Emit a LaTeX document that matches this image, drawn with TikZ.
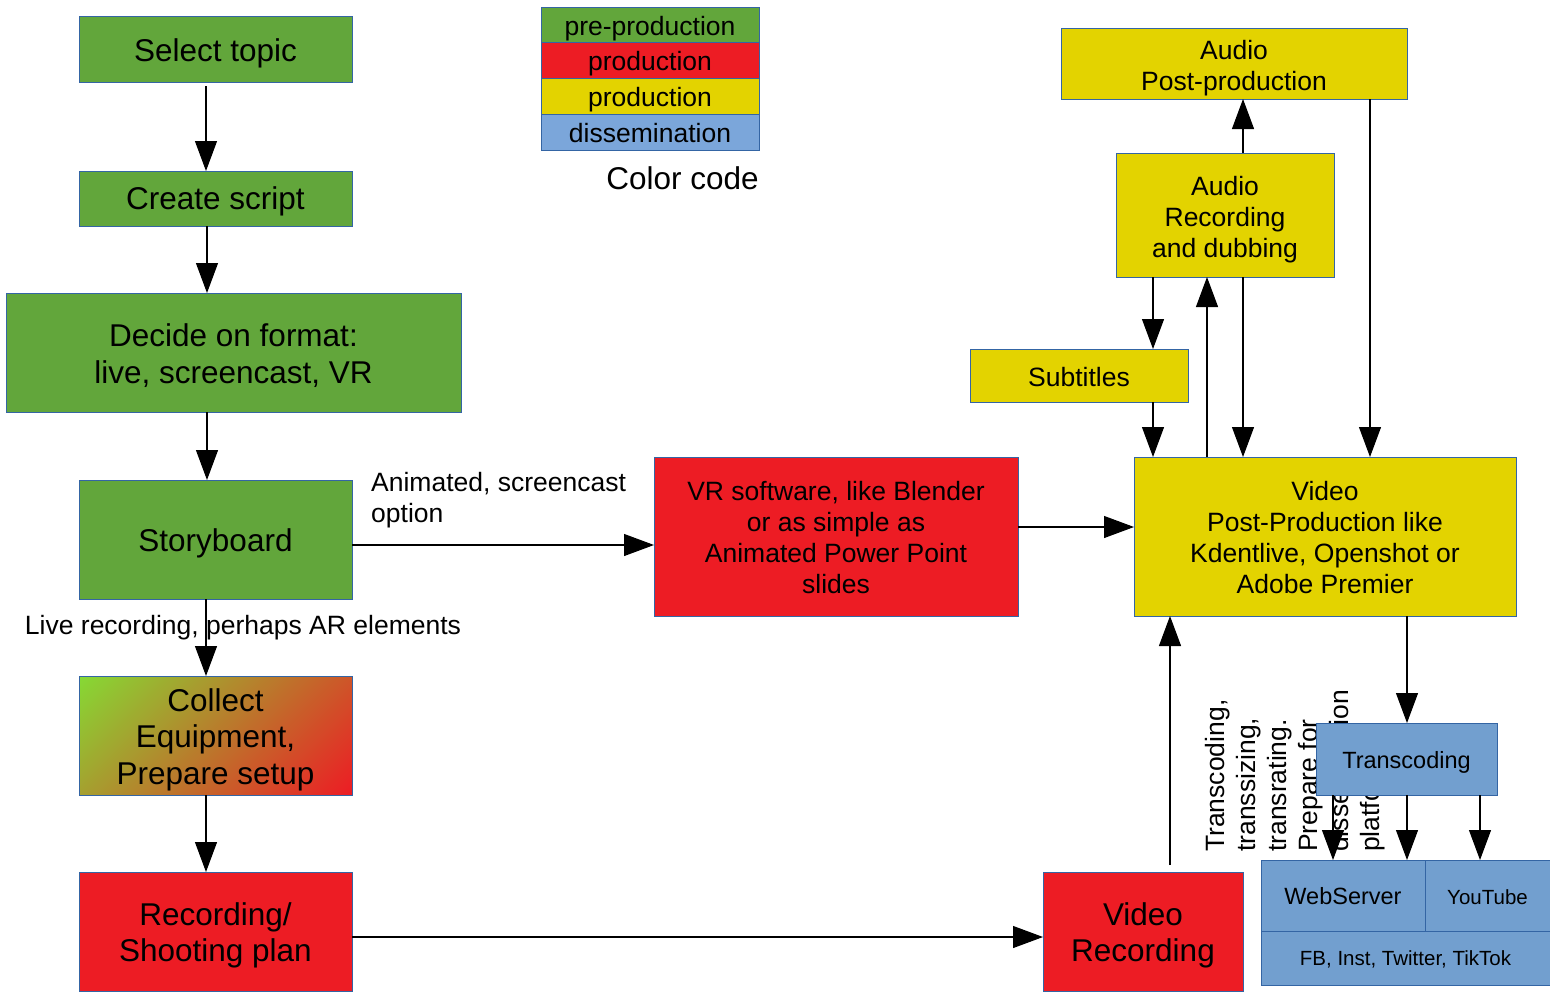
\documentclass[tikz,border=0pt]{standalone}
\usepackage{fontspec}
\setmainfont{Liberation Sans}
\usetikzlibrary{arrows.meta}
\definecolor{cgreen}{RGB}{98,166,59}
\definecolor{cred}{RGB}{237,28,36}
\definecolor{cyellow}{RGB}{227,211,0}
\definecolor{cblue}{RGB}{114,159,207}
\definecolor{clblue}{RGB}{123,166,218}
\definecolor{cbord}{RGB}{52,101,164}
\definecolor{cbright}{RGB}{134,217,52}
\pgfdeclareverticalshading{eqshade}{100bp}{color(0bp)=(cred); color(14.64bp)=(cred); color(85.36bp)=(cbright); color(100bp)=(cbright)}
\tikzset{
  box/.style={draw=cbord, line width=0.8pt, inner sep=0pt, outer sep=0pt},
  tx/.style={inner sep=0pt, align=center, text=black},
  big/.style={font=\fontsize{31.5}{36.5}\selectfont},
  med/.style={font=\fontsize{26.5}{31}\selectfont},
  sml/.style={font=\fontsize{23.5}{28}\selectfont},
  tny/.style={font=\fontsize{20.5}{25}\selectfont},
  arr/.style={-{Triangle[length=30pt,width=22pt]}, line width=1.1pt},
}
\begin{document}
\begin{tikzpicture}[x=1pt,y=-1pt]
\useasboundingbox (0,0) rectangle (1550,991);
% left column
\node[box,fill=cgreen,minimum width=273pt,minimum height=66pt] (sel) at (215.5,49) {};
\node[tx,big] (selt) at ([yshift=-4pt]sel.center) {Select topic};
\node[box,fill=cgreen,minimum width=273pt,minimum height=55pt] (cre) at (215.5,198.5) {};
\node[tx,big] (cret) at ([yshift=-3pt]cre.center) {Create script};
\node[box,fill=cgreen,minimum width=455pt,minimum height=119pt] (dec) at (233.5,352.5) {};
\node[tx,big] (dect) at ([yshift=-3pt]dec.center) {Decide on format:\\ live, screencast, VR};
\node[box,fill=cgreen,minimum width=273pt,minimum height=119pt] (sto) at (215.5,539.5) {};
\node[tx,big] (stot) at ([yshift=-4pt]sto.center) {Storyboard};
\node[box,minimum width=273pt,minimum height=119pt,shading=eqshade,shading angle=45] (col) at (215.5,735.5) {};
\node[tx,big] (colt) at ([yshift=-4pt]col.center) {Collect\\ Equipment,\\ Prepare setup};
\node[box,fill=cred,minimum width=273pt,minimum height=119pt] (rec) at (215.5,931.5) {};
\node[tx,big] (rect) at ([yshift=-4pt]rec.center) {Recording/\\ Shooting plan};
% legend
\node[box,fill=cgreen,minimum width=218pt,minimum height=35.75pt] (l1) at (650,24.9) {};
\node[tx,med] (l1t) at ([yshift=-4pt]l1.center) {pre-production};
\node[box,fill=cred,minimum width=218pt,minimum height=35.75pt] (l2) at (650,60.6) {};
\node[tx,med] (l2t) at ([yshift=-3.5pt]l2.center) {production};
\node[box,fill=cyellow,minimum width=218pt,minimum height=35.75pt] (l3) at (650,96.4) {};
\node[tx,med] (l3t) at ([yshift=-3.5pt]l3.center) {production};
\node[box,fill=clblue,minimum width=218pt,minimum height=35.75pt] (l4) at (650,132.1) {};
\node[tx,med] (l4t) at ([yshift=-1pt]l4.center) {dissemination};
\node[tx,big,anchor=east] (cc) at (759,178) {Color code};
% middle / right
\node[box,fill=cred,minimum width=364pt,minimum height=159pt] (vr) at (836,536.5) {};
\node[tx,med] (vrt) at ([yshift=-1pt]vr.center) {VR software, like Blender\\ or as simple as\\ Animated Power Point\\ slides};
\node[box,fill=cyellow,minimum width=382pt,minimum height=159pt] (vpost) at (1325,536.5) {};
\node[tx,med] (vpostt) at ([yshift=-1pt]vpost.center) {Video\\ Post-Production like\\ Kdentlive, Openshot or\\ Adobe Premier};
\node[box,fill=cyellow,minimum width=346pt,minimum height=71pt] (apost) at (1234,63.5) {};
\node[tx,med] (apostt) at ([yshift=-5pt]apost.center) {Audio\\ Post-production};
\node[box,fill=cyellow,minimum width=218pt,minimum height=124pt] (arec) at (1225,215) {};
\node[tx,med] (arect) at ([yshift=-4.5pt]arec.center) {Audio\\ Recording\\ and dubbing};
\node[box,fill=cyellow,minimum width=218pt,minimum height=53pt] (sub) at (1079,375.5) {};
\node[tx,med] (subt) at ([yshift=-2pt]sub.center) {Subtitles};
\node[box,fill=cred,minimum width=200pt,minimum height=119pt] (vrec) at (1143,931.5) {};
\node[tx,big] (vrect) at ([yshift=-4pt]vrec.center) {Video\\ Recording};
% rotated note (behind transcoding box)
\node[tx,med,rotate=90,anchor=west,align=left] (note) at (1295,852) {Transcoding,\\ transsizing,\\ transrating.\\ Prepare for\\ dissemination\\ platforms};
\node[box,fill=cblue,minimum width=181pt,minimum height=72pt] (trans) at (1406.5,759) {};
\node[tx,sml] (transt) at ([yshift=-3pt]trans.center) {Transcoding};
\node[box,fill=cblue,minimum width=164pt,minimum height=71pt] (web) at (1343,895.5) {};
\node[tx,sml] (webt) at ([yshift=-1pt]web.center) {WebServer};
\node[box,fill=cblue,minimum width=125pt,minimum height=71pt] (yt) at (1487.5,895.5) {};
\node[tx,tny] (ytt) at ([yshift=-2pt]yt.center) {YouTube};
\node[box,fill=cblue,minimum width=289pt,minimum height=54pt] (fb) at (1405.5,958) {};
\node[tx,tny] (fbt) at ([yshift=-1pt]fb.center) {FB, Inst, Twitter, TikTok};
% labels
\node[tx,med,anchor=north west,align=left] (lab1) at (371,472) {Animated, screencast\\ option};
\node[tx,med] (lab2) at (243,628) {Live recording, perhaps AR elements};
% arrows left column
\draw[arr,shorten <=4pt] ([xshift=-9.5pt]sel.south) -- ([xshift=-9.5pt]cre.north);
\draw[arr] ([xshift=-8.5pt]cre.south) -- ([xshift=-26.5pt]dec.north);
\draw[arr] ([xshift=-26.5pt]dec.south) -- ([xshift=-8.5pt]sto.north);
\draw[arr] ([xshift=-9.5pt]sto.south) -- ([xshift=-9.5pt]col.north);
\draw[arr] ([xshift=-9.5pt]col.south) -- ([xshift=-9.5pt]rec.north);
% horizontal
\draw[arr] ([yshift=-5.5pt]sto.east) -- ([yshift=-8.5pt]vr.west);
\draw[arr] ([yshift=9.5pt]vr.east) -- ([yshift=9.5pt]vpost.west);
\draw[arr] ([yshift=-5.5pt]rec.east) -- ([yshift=-5.5pt]vrec.west);
% right side
\draw[arr,shorten <=7pt] ([xshift=27pt]vrec.north) -- ([xshift=-155pt]vpost.south);
\draw[arr] ([xshift=-118pt]vpost.north) -- ([xshift=-18pt]arec.south);
\draw[arr] ([xshift=18pt]arec.south) -- ([xshift=-82pt]vpost.north);
\draw[arr] ([xshift=-72pt]arec.south) -- ([xshift=74pt]sub.north);
\draw[arr] ([xshift=74pt]sub.south) -- ([xshift=-172pt]vpost.north);
\draw[arr] ([xshift=18pt]arec.north) -- ([xshift=9pt]apost.south);
\draw[arr] ([xshift=136pt]apost.south) -- ([xshift=45pt]vpost.north);
\draw[arr] ([xshift=82pt]vpost.south) -- ([xshift=0.5pt]trans.north);
\draw[arr] ([xshift=-73.5pt]trans.south) -- ([xshift=-10pt]web.north);
\draw[arr] ([xshift=0.5pt]trans.south) -- ([xshift=64pt]web.north);
\draw[arr] ([xshift=73.5pt]trans.south) -- ([xshift=-7.5pt]yt.north);
\end{tikzpicture}
\end{document}
